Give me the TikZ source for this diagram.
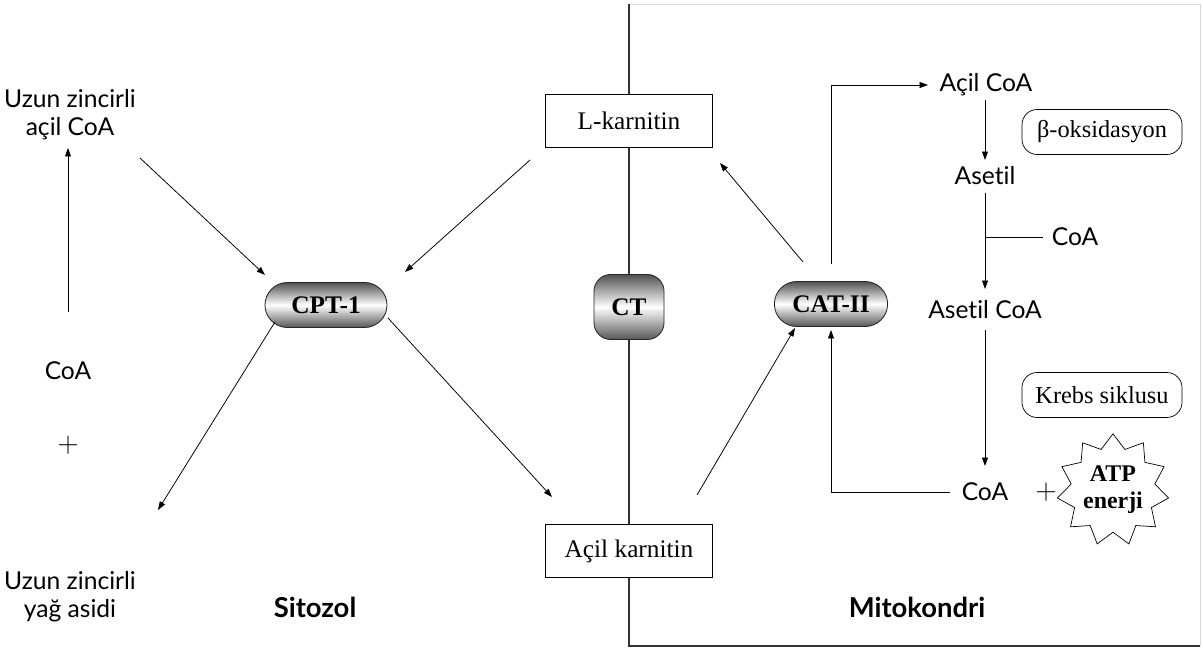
\documentclass[tikz,border=0pt]{standalone}
\usepackage{fontspec}
\setmainfont{Liberation Serif}
\newfontfamily\labelsans[Ligatures=NoCommon]{Lato}
\usetikzlibrary{shapes.misc,shapes.geometric,arrows.meta}

\begin{document}
\begin{tikzpicture}[x=0.025cm,y=-0.025cm,
  lbl/.style={font=\labelsans\fontsize{17.5}{20}\selectfont, align=center, inner sep=0pt},
  region/.style={font=\labelsans\bfseries\fontsize{19.5}{22}\selectfont, inner sep=0pt},
  pill/.style={rounded rectangle, draw=black!85, line width=0.6pt,
    top color=black!68, bottom color=black!66, middle color=white,
    minimum height=1.125cm, inner sep=0pt, font=\bfseries\fontsize{18}{18}\selectfont},
  ctbox/.style={rectangle, rounded corners=0.42cm, draw=black!85, line width=0.6pt,
    top color=black!68, bottom color=black!66, middle color=white,
    minimum width=1.75cm, minimum height=1.625cm, inner sep=0pt,
    font=\bfseries\fontsize{18}{18}\selectfont},
  carrier/.style={draw, fill=white, line width=0.5pt, minimum width=4.175cm,
    minimum height=1.325cm, inner sep=0pt, font=\fontsize{18}{20}\selectfont},
  tag/.style={draw, fill=white, rounded corners=0.38cm, line width=0.5pt,
    minimum width=4cm, minimum height=1.125cm, inner sep=0pt,
    font=\fontsize{17.3}{20}\selectfont},
  arr/.style={-{Triangle[length=6pt,width=4.2pt]}, line width=0.55pt},
  ln/.style={line width=0.55pt},
  plus/.style={inner sep=0pt, font=\fontsize{20}{20}\selectfont}
]
\useasboundingbox (0,0) rectangle (1203,648);

% mitochondrion frame: membrane on the left, shadowed edges
\draw[black!15, line width=0.6pt] (629,4) -- (1200,4) -- (1200,646);
\draw[black!80, line width=0.9pt] (629,4) -- (629,646) -- (1200,646);

% carriers sitting on the membrane
\node[carrier] (lk) at (629,121) {L-karnitin};
\node[carrier] (ak) at (629,551) {Açil karnitin};
\node[ctbox] (ct) at (629,307) {CT};

% enzymes
\node[pill, minimum width=3.05cm] (cpt) at (326,305) {CPT-1};
\node[pill, minimum width=2.83cm] (cat) at (831,304) {CAT-II};

% cytosol side
\node[lbl] (uzunA) at (70,115) {Uzun zincirli\\açil CoA};
\node[lbl] (coaL) at (68,371) {CoA};
\node[plus] (plusL) at (68,445) {$+$};
\node[lbl] (uzunY) at (70,597) {Uzun zincirli\\yağ asidi};

% mitochondrial side
\node[lbl] (acoa) at (986,85) {Açil CoA};
\node[lbl] (asetil) at (985,176) {Asetil};
\node[lbl] (coaR) at (1075,237) {CoA};
\node[lbl] (asetilcoa) at (985,310) {Asetil CoA};
\node[lbl] (coaB) at (985,492) {CoA};
\node[plus] (plusR) at (1046,492) {$+$};
\node[star, star points=11, star point ratio=1.33, draw, line width=0.5pt,
  minimum size=2.8cm, inner sep=0pt, align=center,
  font=\bfseries\fontsize{17}{19}\selectfont] (atp) at (1113,490) {ATP\\enerji};
\node[tag] (beta) at (1102,132) {β-oksidasyon};
\node[tag] (krebs) at (1102,395) {Krebs siklusu};

\node[region] (sit) at (315,607) {Sitozol};
\node[region] (mit) at (917,607) {Mitokondri};

% free ends of the connectors
\coordinate (c0a) at (68,312);   \coordinate (c0b) at (68,148);
\coordinate (c1a) at (140,158);  \coordinate (c1b) at (265,275);
\coordinate (c2a) at (530,160);  \coordinate (c2b) at (405,272);
\coordinate (c3a) at (275,322);  \coordinate (c3b) at (158,510);
\coordinate (c4a) at (388,318);  \coordinate (c4b) at (552,497);
\coordinate (c5a) at (697,495);  \coordinate (c5b) at (795,328);
\coordinate (c6a) at (803,262);  \coordinate (c6b) at (720,163);
\coordinate (c7a) at (831,264);  \coordinate (c7b) at (928,85);
\coordinate (v1a) at (985,100);  \coordinate (v1b) at (985,160);
\coordinate (v2a) at (985,193);  \coordinate (v2b) at (985,289);
\coordinate (br)  at (985,237);  \coordinate (brend) at (1043,237);
\coordinate (v3a) at (985,330);  \coordinate (v3b) at (985,466);
\coordinate (c8a) at (950,492);  \coordinate (c8b) at (831,330);

% cytosol reactions
\draw[arr] (c0a) -- (c0b);
\draw[arr] (c1a) -- (c1b);
\draw[arr] (c2a) -- (c2b);
\draw[arr] (c3a) -- (c3b);
\draw[arr] (c4a) -- (c4b);

% mitochondrial reactions
\draw[arr] (c5a) -- (c5b);
\draw[arr] (c6a) -- (c6b);
\draw[arr] (c7a) |- (c7b);
\draw[arr] (v1a) -- (v1b);
\draw[arr] (v2a) -- (v2b);
\draw[ln] (br) -- (brend);
\draw[arr] (v3a) -- (v3b);
\draw[arr] (c8a) -| (c8b);
\end{tikzpicture}
\end{document}
